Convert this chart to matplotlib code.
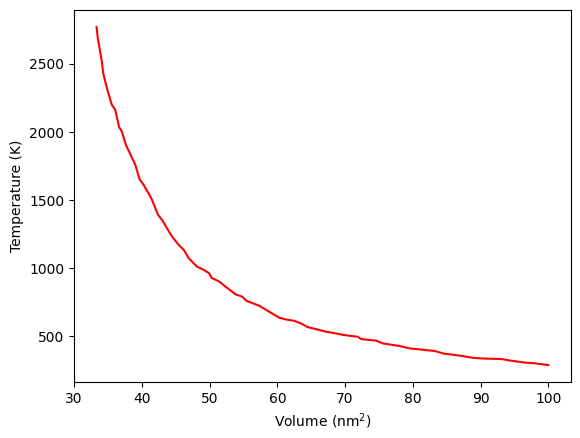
import matplotlib
matplotlib.use('Agg')
from matplotlib import pyplot as plt

# Volume (nm^2) and temperature (K)
volume = [33.33, 33.5, 34.1, 34.3, 34.98, 35.57, 36.07, 36.67, 37.05, 37.64,
          38.3, 39.04, 39.67, 40.27, 41.4, 42.4, 42.98, 43.87, 44.46, 45.45,
          46.2, 46.93, 48.16, 49.16, 49.93, 50.3, 51.4, 52.37, 53.85, 54.83,
          55.43, 57.3, 58.79, 60.27, 61.26, 62.49, 63.48, 64.46, 65.7, 67.19,
          68.18, 69.9, 71.87, 72.37, 74.59, 75.58, 78.07, 79.56, 81.04, 83.26,
          84.5, 87.4, 88.9, 90.4, 93.1, 94.4, 96.6, 97.8, 100.0]
temperature = [2772, 2691, 2520, 2434, 2299, 2201, 2165, 2035, 2005, 1907,
               1838, 1760, 1654, 1613, 1515, 1392, 1356, 1282, 1233, 1172,
               1135, 1074, 1012, 988, 965, 930, 904, 865, 809, 792,
               762, 726, 682, 638, 625, 615, 596, 569, 554, 535,
               527, 510, 498, 481, 469, 449, 430, 412, 405, 393,
               375, 356, 343, 338, 334, 323, 308, 304, 290]

fig = plt.figure(figsize=(5.8, 4.38), dpi=100)
ax = fig.add_axes([74 / 580, 1 - 382 / 438, 497 / 580, 372 / 438])

ax.plot(volume, temperature, color='red')

ax.set_xlabel('Volume (nm$^2$)')
ax.set_ylabel('Temperature (K)')
ax.set_xticks([30, 40, 50, 60, 70, 80, 90, 100])

fig.savefig('out.png', dpi=100)
plt.close(fig)
